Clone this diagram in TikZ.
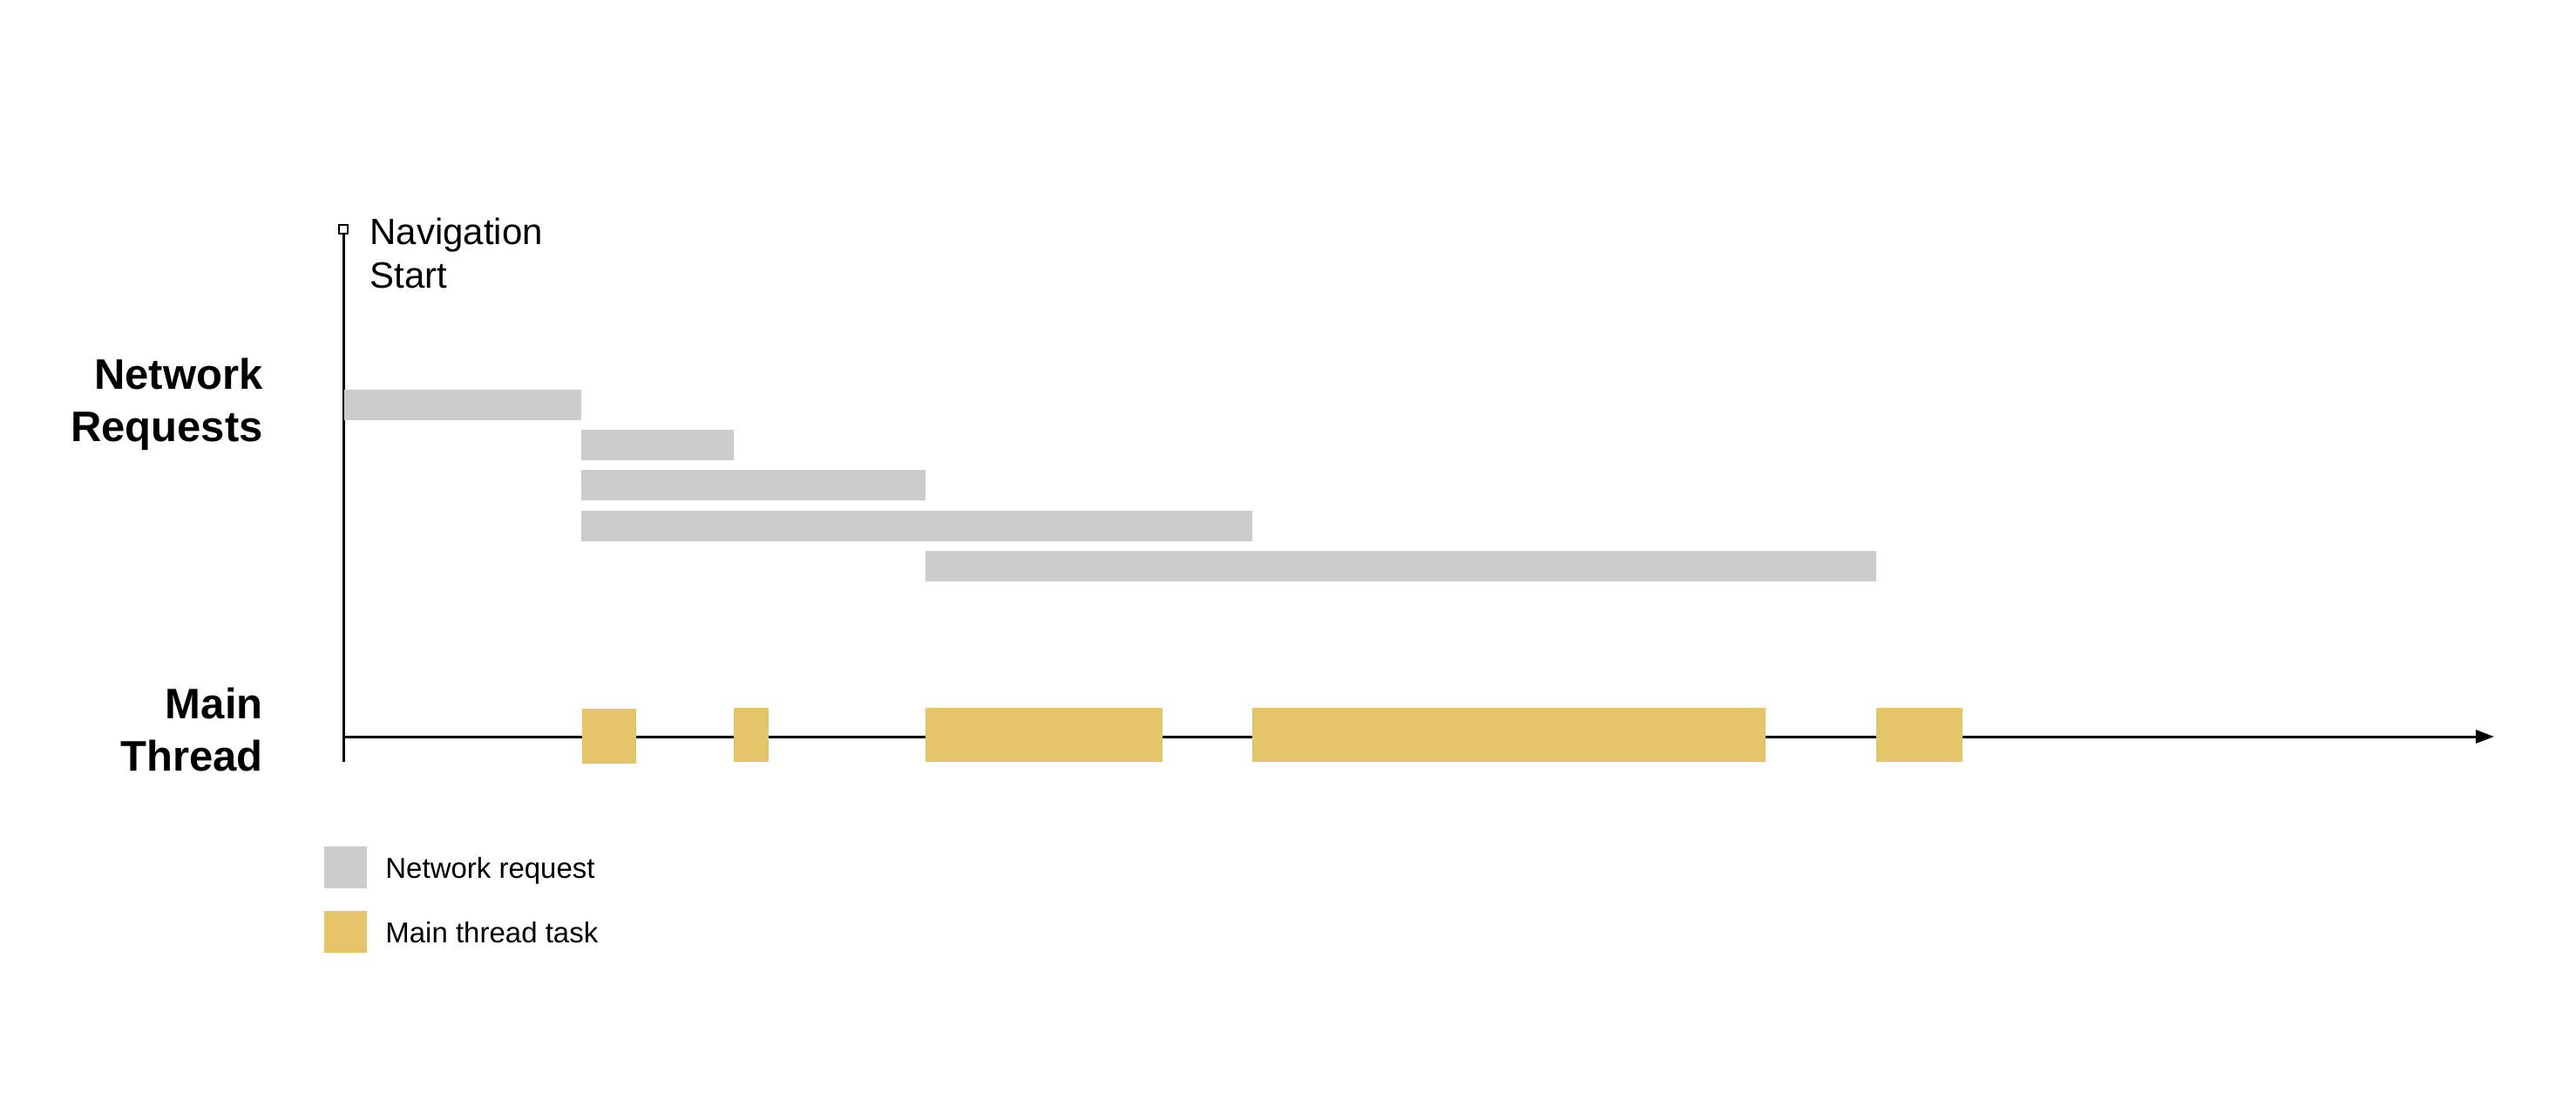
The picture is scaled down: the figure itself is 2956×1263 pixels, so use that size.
\documentclass[tikz,border=0pt]{standalone}
\usepackage{fontspec}
\setmainfont{Liberation Sans}
\usetikzlibrary{arrows.meta}
\definecolor{netgray}{HTML}{CCCCCC}
\definecolor{taskyellow}{HTML}{E6C46A}
\begin{document}
\begin{tikzpicture}[x=0.5pt,y=-0.5pt,
  netbar/.style={fill=netgray},
  taskbox/.style={fill=taskyellow},
  axisline/.style={line width=1.5pt, draw=black},
  lanelabel/.style={font=\fontsize{24.5}{30}\selectfont\bfseries, inner sep=0pt, anchor=base east},
  navtext/.style={font=\fontsize{21}{25}\selectfont, inner sep=0pt, anchor=base west},
  legendtext/.style={font=\fontsize{16.5}{20}\selectfont, inner sep=0pt, anchor=base west}]
\useasboundingbox[fill=white] (0,0) rectangle (2956,1263);

% lane labels
\node[lanelabel] (net1) at (302,446) {Network};
\node[lanelabel] (net2) at (302,506) {Requests};
\node[lanelabel] (main1) at (302,824) {Main};
\node[lanelabel] (main2) at (302,884) {Thread};

% navigation start marker and text
\node[draw=black, line width=1pt, fill=white, minimum size=5pt, inner sep=0pt] (navmark) at (394,263) {};
\node[navtext] (nav1) at (424,280) {Navigation};
\node[navtext] (nav2) at (424,330) {Start};

% axes
\coordinate (ytop) at (394,268);
\coordinate (ybot) at (394,874);
\coordinate (xorig) at (394,845);
\coordinate (xend) at (2862,845);
\draw[axisline, line cap=butt] (ytop) -- (ybot);
\draw[axisline, -{Triangle[length=10.5pt, width=7.5pt]}] (xorig) -- (xend);

% network requests
\fill[netbar] (395,447) rectangle (667,482);
\fill[netbar] (667,493) rectangle (842,528);
\fill[netbar] (667,539) rectangle (1062,574);
\fill[netbar] (667,586) rectangle (1437,621);
\fill[netbar] (1062,632) rectangle (2153,667);

% main thread tasks
\fill[taskbox] (668,813) rectangle (730,876);
\fill[taskbox] (842,812) rectangle (882,874);
\fill[taskbox] (1062,812) rectangle (1334,874);
\fill[taskbox] (1437,812) rectangle (2026,874);
\fill[taskbox] (2153,812) rectangle (2252,874);

% legend
\fill[netbar] (372,971) rectangle (421,1019);
\node[legendtext] (leg1) at (442,1007) {Network request};
\fill[taskbox] (372,1045) rectangle (421,1093);
\node[legendtext] (leg2) at (442,1081) {Main thread task};
\end{tikzpicture}
\end{document}
